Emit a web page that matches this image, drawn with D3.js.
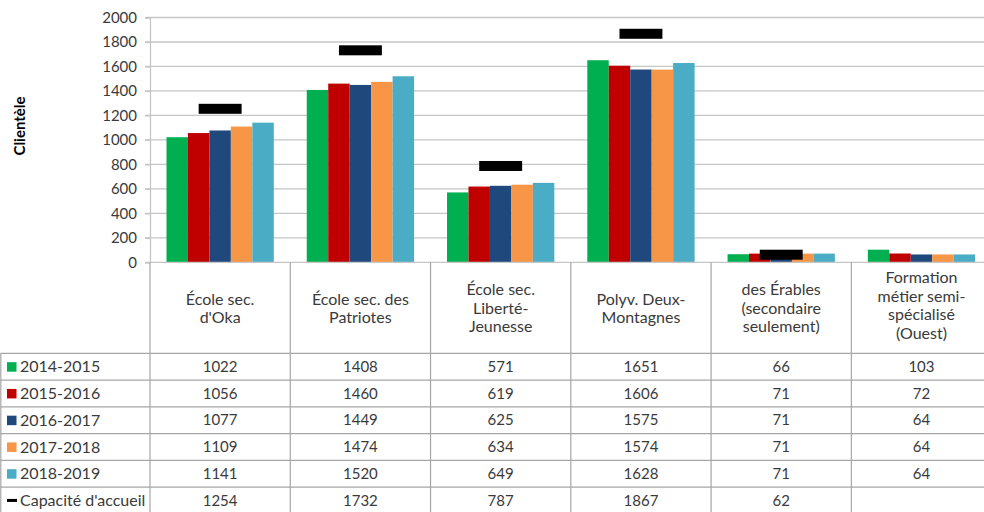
<!DOCTYPE html>
<html>
<head>
<meta charset="utf-8">
<script src="https://cdn.jsdelivr.net/npm/d3@7"></script>
<style>
  html, body { margin: 0; padding: 0; background: #fff; }
  svg { display: block; font-family: Lato, "Open Sans", sans-serif; }
</style>
</head>
<body>
<svg id="chart" width="984" height="512"></svg>
<script>
// ---- data ----
const categories = [
  "École sec. d'Oka",
  "École sec. des Patriotes",
  "École sec. Liberté-Jeunesse",
  "Polyv. Deux-Montagnes",
  "des Érables (secondaire seulement)",
  "Formation métier semi-spécialisé (Ouest)"
];
const categoryLines = [
  ["École sec.", "d'Oka"],
  ["École sec. des", "Patriotes"],
  ["École sec.", "Liberté-", "Jeunesse"],
  ["Polyv. Deux-", "Montagnes"],
  ["des Érables", "(secondaire", "seulement)"],
  ["Formation", "métier semi-", "spécialisé", "(Ouest)"]
];
const seriesNames = ["2014-2015", "2015-2016", "2016-2017", "2017-2018", "2018-2019"];
const seriesColors = ["#00b050", "#c00000", "#1f497d", "#f79646", "#4bacc6"];
const v2014 = [1022, 1408, 571, 1651, 66, 103];
const v2015 = [1056, 1460, 619, 1606, 71, 72];
const v2016 = [1077, 1449, 625, 1575, 71, 64];
const v2017 = [1109, 1474, 634, 1574, 71, 64];
const v2018 = [1141, 1520, 649, 1628, 71, 64];
const capacityName = "Capacité d'accueil";
const capacity = [1254, 1732, 787, 1867, 62, null];
const yTicks = [0, 200, 400, 600, 800, 1000, 1200, 1400, 1600, 1800, 2000];
const yTitle = "Clientèle";

const seriesValues = [v2014, v2015, v2016, v2017, v2018];

// ---- layout ----
const svg = d3.select("#chart");
const plotLeft = 150, catW = 140.27;
const plotRight = plotLeft + catW * categories.length;
const yTop = 17.5, yBottom = 262.3;
const headerBottom = 353.3, rowH = 26.75;
const textColor = "#3a3a3a";
const gridColor = "#c6c6c6";
const tableColor = "#a6a6a6";
const labelSize = "16px", numSize = "15px";

const x0 = d3.scaleBand().domain(d3.range(categories.length)).range([plotLeft, plotRight]).padding(0);
const inset = catW * 0.1175;
const x1 = d3.scaleBand().domain(d3.range(seriesNames.length)).range([inset, catW - inset]).padding(0);
const y = d3.scaleLinear().domain([0, 2000]).range([yBottom, yTop]);

// gridlines
svg.append("g").selectAll("line").data(yTicks.filter(t => t > 0)).join("line")
  .attr("x1", plotLeft - 5).attr("x2", plotRight)
  .attr("y1", d => y(d)).attr("y2", d => y(d))
  .attr("stroke", gridColor).attr("stroke-width", 1.3);

// y tick labels via axis
const yAxis = d3.axisLeft(y).tickValues(yTicks).tickSize(5).tickPadding(8).tickFormat(d3.format("d"));
const ya = svg.append("g").attr("transform", `translate(${plotLeft},0)`).call(yAxis);
ya.select(".domain").attr("stroke", gridColor).attr("stroke-width", 1.3);
ya.selectAll(".tick line").attr("stroke", gridColor).attr("stroke-width", 1.3);
ya.selectAll(".tick text").attr("fill", textColor).style("font-size", numSize).style("font-family", "Lato, sans-serif");

// y title
svg.append("text")
  .attr("transform", `translate(21,${126}) rotate(-90)`)
  .attr("text-anchor", "middle").attr("dominant-baseline", "middle")
  .style("font-size", "15px").style("font-weight", "bold").attr("fill", "#000")
  .text(yTitle);

// bars
const barG = svg.append("g");
seriesValues.forEach((vals, si) => {
  barG.append("g").selectAll("rect").data(vals).join("rect")
    .attr("x", (d, i) => x0(i) + x1(si))
    .attr("width", x1.bandwidth())
    .attr("y", d => y(d))
    .attr("height", d => y(0) - y(d))
    .attr("fill", seriesColors[si]);
});

// capacity markers
svg.append("g").selectAll("rect").data(capacity.map((v, i) => ({v, i})).filter(d => d.v != null)).join("rect")
  .attr("x", d => x0(d.i) + catW / 2 - x1.bandwidth())
  .attr("width", x1.bandwidth() * 2)
  .attr("y", d => y(d.v) - 5)
  .attr("height", 10)
  .attr("fill", "#000");

// axis baseline
svg.append("line").attr("x1", plotLeft - 5).attr("x2", plotRight).attr("y1", yBottom).attr("y2", yBottom)
  .attr("stroke", gridColor).attr("stroke-width", 1.3);

// ---- data table ----
const tbl = svg.append("g");
const nRows = seriesNames.length + 1;
const tableBottom = headerBottom + rowH * nRows;
d3.range(nRows + 1).forEach(r => {
  const yy = headerBottom + r * rowH;
  tbl.append("line").attr("x1", 0.5).attr("x2", plotRight).attr("y1", yy).attr("y2", yy)
    .attr("stroke", tableColor).attr("stroke-width", 1.2);
});
d3.range(categories.length + 1).forEach(c => {
  const xx = plotLeft + c * catW;
  tbl.append("line").attr("x1", xx).attr("x2", xx).attr("y1", yBottom).attr("y2", tableBottom)
    .attr("stroke", tableColor).attr("stroke-width", 1.2);
});
tbl.append("line").attr("x1", 0.8).attr("x2", 0.8).attr("y1", headerBottom).attr("y2", tableBottom)
  .attr("stroke", tableColor).attr("stroke-width", 1.2);

// header labels
const lineH = 18.5;
categoryLines.forEach((lines, i) => {
  const cx = x0(i) + catW / 2;
  const cy = (yBottom + headerBottom) / 2 + 0.5 - (lines.length > 3 ? 3 : 0);
  const t = tbl.append("text").attr("text-anchor", "middle").attr("fill", textColor)
    .style("font-size", labelSize);
  lines.forEach((ln, k) => {
    t.append("tspan").attr("x", cx)
      .attr("y", cy + (k - (lines.length - 1) / 2) * lineH)
      .attr("dy", "0.35em").text(ln);
  });
});

// row legend + values
const rows = seriesNames.map((n, si) => ({name: n, color: seriesColors[si], vals: seriesValues[si], type: "bar"}));
rows.push({name: capacityName, color: "#000", vals: capacity, type: "line"});
rows.forEach((row, r) => {
  const cy = headerBottom + r * rowH + rowH / 2;
  if (row.type === "bar") {
    tbl.append("rect").attr("x", 7).attr("y", cy - 4.5).attr("width", 9.5).attr("height", 9.5).attr("fill", row.color);
  } else {
    tbl.append("rect").attr("x", 7).attr("y", cy - 1.5).attr("width", 10).attr("height", 3).attr("fill", row.color);
  }
  tbl.append("text").attr("x", 20).attr("y", cy).attr("dy", "0.35em")
    .attr("fill", textColor).style("font-size", labelSize).text(row.name);
  row.vals.forEach((v, i) => {
    if (v == null) return;
    tbl.append("text").attr("x", x0(i) + catW / 2).attr("y", cy).attr("dy", "0.35em")
      .attr("text-anchor", "middle").attr("fill", textColor).style("font-size", numSize).text(v);
  });
});
</script>
</body>
</html>
